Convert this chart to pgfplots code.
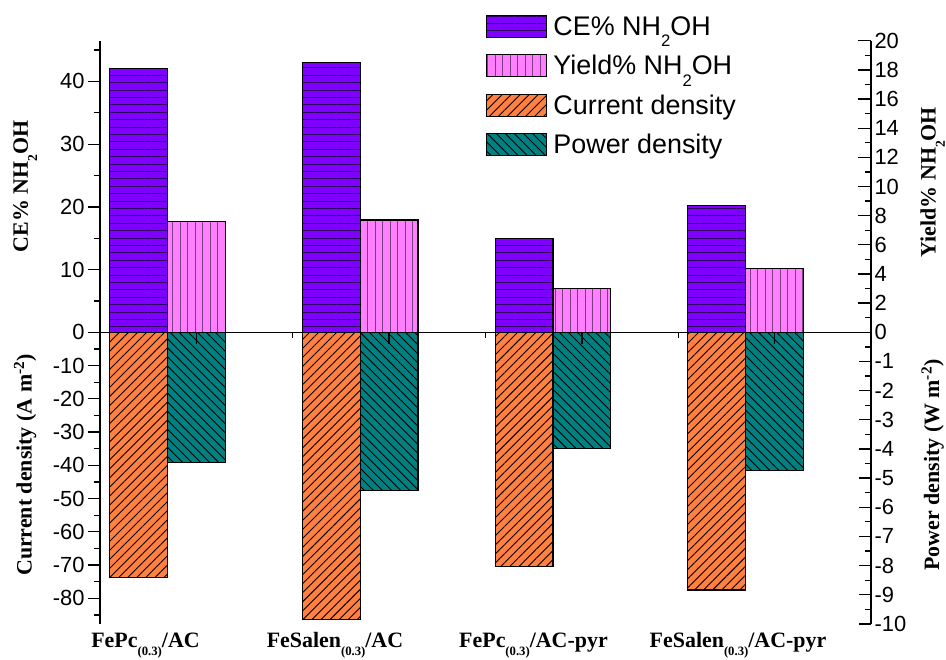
\documentclass[border=0pt]{standalone}
\usepackage{fontspec}
\setmainfont{Liberation Serif}
\setsansfont{Liberation Sans}
\usepackage{graphicx}
\usepackage{pgfplots}
\pgfplotsset{compat=1.18}
\usetikzlibrary{patterns.meta}
\newcommand{\lsub}[1]{\raisebox{-0.42em}{\scalebox{0.62}{#1}}}
\newcommand{\csub}[1]{\raisebox{-0.36em}{\scalebox{0.58}{#1}}}
\definecolor{ceC}{RGB}{128,0,255}
\definecolor{ylC}{RGB}{255,128,255}
\definecolor{cdC}{RGB}{255,128,64}
\definecolor{pdC}{RGB}{0,128,128}
\definecolor{ceL}{RGB}{45,0,95}
\definecolor{ylL}{RGB}{125,60,130}
\pgfplotsset{
  myleg/.style={legend image code/.code={\draw[##1] (0bp,-11bp) rectangle (60bp,11bp);}},
  ceStyle/.style={fill=ceC, draw=black, line width=1.1bp, postaction={pattern={Lines[angle=0,distance=7.4bp,line width=1bp]}, pattern color=ceL}, myleg},
  ylStyle/.style={fill=ylC, draw=black, line width=1.1bp, postaction={pattern={Lines[angle=90,distance=7.5bp,line width=1bp]}, pattern color=ylL}, myleg},
  cdStyle/.style={fill=cdC, draw=black, line width=1.1bp, postaction={pattern={Lines[angle=45,distance=6.4bp,line width=0.9bp]}, pattern color=black}, myleg},
  pdStyle/.style={fill=pdC, draw=black, line width=1.1bp, postaction={pattern={Lines[angle=-45,distance=6.4bp,line width=0.9bp]}, pattern color=black}, myleg},
  base/.style={scale only axis, width=771bp, height=291.6bp, xmin=0.5, xmax=4.5,
    ybar, bar width=0.3, clip=false,
    axis line style={line width=1.3bp, black},
    tick style={black, line width=1.3bp},
    major tick length=12bp, minor tick length=6bp,
    tick label style={font=\sffamily\fontsize{22}{26}\selectfont},
    /pgf/number format/assume math mode=true,
    ylabel style={font=\bfseries\fontsize{22}{26}\selectfont, anchor=center},
  },
}
\begin{document}
\begin{tikzpicture}
\path[use as bounding box] (0,0) rectangle (946bp,660bp);
% top left: CE%
\begin{axis}[base, at={(100bp,327.7bp)}, anchor=south west,
  ymin=0, ymax=46.5, axis y line*=left, axis x line=none,
  tick align=outside,
  ytick={0,10,20,30,40}, minor ytick={5,15,25,35,45},
  ylabel={CE\% NH\lsub{2}OH},
  ylabel style={at={(axis description cs:-0.097,0.5)}},
  legend style={draw=none, fill=none, at={(axis description cs:0.497,1.097)}, anchor=north west,
    font=\sffamily\fontsize{27}{31}\selectfont, row sep=14.5bp,
    /tikz/every odd column/.append style={column sep=4bp}},
  legend cell align=left]
\addplot[ceStyle] coordinates {(0.7,42.0) (1.7,43.0) (2.7,15.0) (3.7,20.2)};
\addlegendentry{CE\% NH\lsub{2}OH}
\addlegendimage{ylStyle}
\addlegendentry{Yield\% NH\lsub{2}OH}
\addlegendimage{cdStyle}
\addlegendentry{Current density}
\addlegendimage{pdStyle}
\addlegendentry{Power density}
\end{axis}
% top right: Yield%
\begin{axis}[base, at={(100bp,327.7bp)}, anchor=south west,
  ymin=0, ymax=20, axis y line*=right, axis x line=none,
  tick align=inside, major tick length=13bp,
  ytick={0,2,...,20}, minor ytick={1,3,...,19},
  ylabel={Yield\% NH\lsub{2}OH},
  ylabel style={at={(axis description cs:1.08,0.515)}}]
\addplot[ylStyle] coordinates {(1,7.6) (2,7.7) (3,3.0) (4,4.4)};
\end{axis}
% bottom left: current density
\begin{axis}[base, at={(100bp,327.7bp)}, anchor=north west,
  ymin=-87.7, ymax=0, axis y line*=left, axis x line=none,
  tick align=outside,
  ytick={-80,-70,-60,-50,-40,-30,-20,-10,0},
  yticklabels={-80,-70,-60,-50,-40,-30,-20,-10,{}},
  minor ytick={-85,-75,-65,-55,-45,-35,-25,-15,-5},
  ylabel={Current density (A m\textsuperscript{-2})},
  ylabel style={at={(axis description cs:-0.097,0.545)}}]
\addplot[cdStyle] coordinates {(0.7,-73.8) (1.7,-86.3) (2.7,-70.5) (3.7,-77.5)};
\node[anchor=base, yshift=-24bp, font=\bfseries\fontsize{22}{26}\selectfont] at (axis cs:0.736,-87.7) {FePc\csub{(0.3)}/AC};
\node[anchor=base, yshift=-24bp, font=\bfseries\fontsize{22}{26}\selectfont] at (axis cs:1.719,-87.7) {FeSalen\csub{(0.3)}/AC};
\node[anchor=base, yshift=-24bp, font=\bfseries\fontsize{22}{26}\selectfont] at (axis cs:2.749,-87.7) {FePc\csub{(0.3)}/AC-pyr};
\node[anchor=base, yshift=-24bp, font=\bfseries\fontsize{22}{26}\selectfont] at (axis cs:3.81,-87.7) {FeSalen\csub{(0.3)}/AC-pyr};
\end{axis}
% bottom right: power density, plus zero line with x ticks
\begin{axis}[base, at={(100bp,327.7bp)}, anchor=north west,
  ymin=-10, ymax=0, axis y line*=right, axis x line*=top,
  tick align=inside, major tick length=12bp, minor tick length=6bp,
  axis on top,
  xtick={1,2,3,4}, minor xtick={1.5,2.5,3.5}, xticklabels={},
  ytick={-10,-9,...,0},
  yticklabels={-10,-9,-8,-7,-6,-5,-4,-3,-2,-1,{}},
  minor ytick={-9.5,-8.5,...,-0.5},
  ylabel={Power density (W m\textsuperscript{-2})},
  ylabel style={at={(axis description cs:1.08,0.545)}}]
\addplot[pdStyle] coordinates {(1,-4.48) (2,-5.43) (3,-3.98) (4,-4.74)};
\end{axis}
\end{tikzpicture}
\end{document}
